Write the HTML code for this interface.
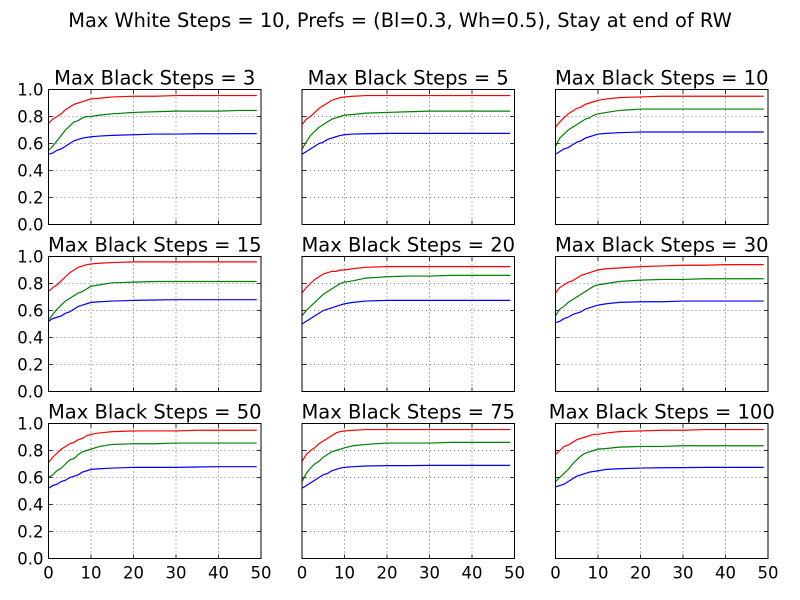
<!DOCTYPE html>
<html><head><meta charset="utf-8"><style>
body{margin:0;background:#fff;}
svg{display:block;font-family:"DejaVu Sans","Liberation Sans",sans-serif;}
</style></head><body>
<svg id="chart" width="800" height="600">
<rect width="800" height="600" fill="#fff"/>
<text x="400" y="27" text-anchor="middle" font-size="19.4">Max White Steps = 10, Prefs = (Bl=0.3, Wh=0.5), Stay at end of RW</text>
</svg>
<script>
const xs = [0,1,2,3,4,5,6,7,8,9,10,12,15,20,25,30,35,40,45,49];
const panelTitles = [3,5,10,15,20,30,50,75,100];
const xTicks = [0,10,20,30,40,50];
const yTicks = [0.0,0.2,0.4,0.6,0.8,1.0];
const redSeries = [
 [.75,.78,.80,.82,.85,.87,.89,.90,.91,.92,.93,.935,.945,.95,.95,.955,.955,.955,.955,.955],
 [.74,.78,.80,.83,.86,.88,.90,.92,.93,.94,.945,.95,.955,.955,.955,.955,.955,.955,.955,.955],
 [.72,.76,.79,.82,.84,.86,.87,.89,.90,.91,.92,.93,.94,.945,.95,.95,.95,.95,.95,.95],
 [.74,.77,.79,.82,.85,.88,.90,.92,.93,.94,.945,.95,.955,.96,.96,.96,.96,.96,.96,.96],
 [.73,.77,.80,.83,.85,.87,.88,.89,.89,.90,.90,.91,.92,.925,.925,.925,.925,.925,.925,.925],
 [.73,.77,.79,.81,.82,.84,.86,.87,.88,.89,.90,.91,.915,.925,.93,.935,.935,.94,.94,.94],
 [.71,.75,.78,.81,.83,.85,.86,.88,.89,.91,.92,.93,.94,.945,.945,.945,.95,.95,.95,.95],
 [.72,.77,.80,.82,.85,.87,.89,.91,.93,.94,.945,.95,.955,.955,.955,.955,.955,.955,.955,.955],
 [.77,.80,.83,.84,.86,.88,.89,.90,.91,.92,.92,.93,.94,.945,.95,.95,.955,.955,.955,.955]
];
const greenSeries = [
 [.55,.58,.62,.66,.70,.73,.76,.77,.79,.80,.80,.81,.82,.83,.835,.84,.84,.84,.845,.845],
 [.56,.61,.66,.69,.72,.74,.76,.78,.79,.80,.81,.815,.825,.83,.835,.84,.84,.84,.84,.84],
 [.58,.64,.67,.70,.72,.74,.76,.78,.79,.81,.82,.83,.845,.855,.855,.855,.855,.855,.855,.855],
 [.53,.57,.61,.64,.67,.69,.71,.73,.74,.76,.78,.79,.805,.81,.815,.815,.815,.815,.815,.815],
 [.56,.60,.63,.66,.69,.72,.74,.76,.78,.80,.81,.82,.84,.85,.855,.855,.86,.86,.86,.86],
 [.56,.61,.63,.66,.68,.70,.72,.74,.76,.78,.79,.80,.815,.825,.83,.83,.835,.835,.835,.835],
 [.60,.62,.65,.67,.70,.73,.74,.77,.79,.80,.81,.83,.845,.85,.85,.855,.855,.855,.855,.855],
 [.57,.63,.67,.70,.72,.75,.77,.79,.80,.81,.82,.835,.845,.855,.855,.855,.86,.86,.86,.86],
 [.57,.60,.63,.66,.70,.73,.76,.78,.79,.80,.81,.815,.825,.83,.83,.835,.835,.835,.835,.835]
];
const blueSeries = [
 [.52,.53,.55,.56,.58,.60,.62,.63,.64,.645,.65,.655,.66,.665,.67,.67,.672,.672,.673,.673],
 [.52,.54,.56,.58,.60,.61,.63,.64,.65,.66,.665,.67,.672,.675,.675,.675,.675,.675,.675,.675],
 [.52,.54,.56,.57,.59,.61,.62,.64,.65,.66,.67,.675,.68,.685,.685,.685,.685,.685,.685,.685],
 [.52,.54,.55,.56,.58,.59,.61,.63,.64,.65,.66,.665,.67,.675,.678,.68,.68,.68,.68,.68],
 [.50,.52,.54,.56,.58,.60,.61,.62,.63,.64,.65,.66,.67,.675,.675,.675,.675,.675,.675,.675],
 [.51,.52,.54,.55,.57,.58,.59,.61,.62,.63,.64,.65,.66,.665,.665,.67,.67,.67,.67,.67],
 [.52,.54,.55,.57,.58,.60,.61,.62,.64,.65,.66,.665,.67,.675,.675,.675,.678,.68,.68,.68],
 [.52,.54,.56,.58,.60,.62,.63,.65,.66,.67,.675,.68,.685,.688,.688,.69,.69,.69,.69,.69],
 [.53,.54,.55,.57,.59,.61,.62,.63,.64,.645,.65,.66,.665,.67,.672,.673,.675,.675,.675,.675]
];
const NS = "http://www.w3.org/2000/svg";
const svg = document.getElementById('chart');
const colX = [48.5, 302, 555.5], rowY = [89.5, 256.5, 423.5];
const W = 212.5, H = 135;
function mk(tag, attrs, parent){const e=document.createElementNS(NS,tag);for(const k in attrs)e.setAttribute(k,attrs[k]);(parent||svg).appendChild(e);return e;}
panelTitles.forEach((t,i)=>{
  const r=Math.floor(i/3), c=i%3, x0=colX[c], y0=rowY[r];
  const sx=v=>x0+v/50*W, sy=v=>y0+H-v*H;
  const g=mk('g',{});
  
  
  xTicks.forEach(v=>{ if(v>0&&v<50){const l=mk('line',{x1:sx(v),x2:sx(v),y1:y0,y2:y0+H,stroke:'#000','stroke-width':0.6,'stroke-dasharray':'1,3'},g);
    }
    mk('line',{x1:sx(v),x2:sx(v),y1:y0+H,y2:y0+H-4,stroke:'#000','stroke-width':0.8},g);
    mk('line',{x1:sx(v),x2:sx(v),y1:y0,y2:y0+4,stroke:'#000','stroke-width':0.8},g);
    if(r===2){const tx=mk('text',{x:sx(v),y:y0+H+20,'text-anchor':'middle','font-size':16.5},g);tx.textContent=v;
      }
  });
  yTicks.forEach(v=>{ if(v>0&&v<1){const l=mk('line',{x1:x0,x2:x0+W,y1:sy(v),y2:sy(v),stroke:'#000','stroke-width':0.6,'stroke-dasharray':'1,3'},g);
    }
    mk('line',{x1:x0,x2:x0+4,y1:sy(v),y2:sy(v),stroke:'#000','stroke-width':0.8},g);
    mk('line',{x1:x0+W,x2:x0+W-4,y1:sy(v),y2:sy(v),stroke:'#000','stroke-width':0.8},g);
    if(c===0){const tx=mk('text',{x:x0-5,y:sy(v)+6,'text-anchor':'end','font-size':16.5},g);tx.textContent=v.toFixed(1);
      }
  });
  [[redSeries,'#ff0000','red'],[greenSeries,'#008000','green'],[blueSeries,'#0000ff','blue']].forEach(([s,col,nm])=>{
    const p=mk('polyline',{points:xs.map((x,k)=>sx(x)+','+sy(s[i][k])).join(' '),fill:'none',stroke:col,'stroke-width':1.2},g);
    
    
  });
  const fr=mk('rect',{x:x0,y:y0,width:W,height:H,fill:'none',stroke:'#000','stroke-width':1},g);
  
  
  const tt=mk('text',{x:x0+W/2,y:y0-5,'text-anchor':'middle','font-size':19.5},g);
  tt.textContent='Max Black Steps = '+t;
  
  
});
</script>
</body></html>
